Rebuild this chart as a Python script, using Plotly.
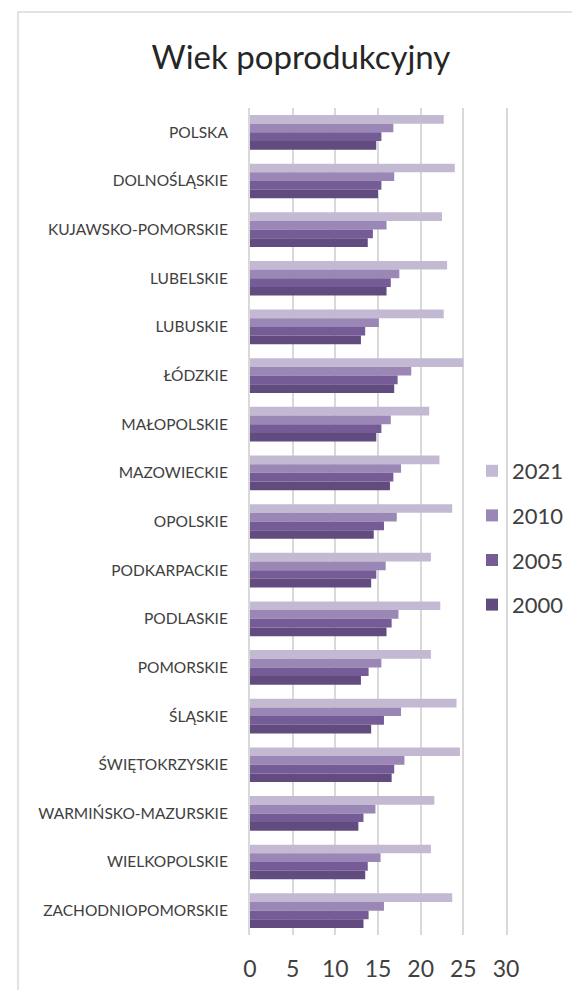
import plotly.graph_objects as go

regions = ["POLSKA", "DOLNOŚLĄSKIE", "KUJAWSKO-POMORSKIE", "LUBELSKIE", "LUBUSKIE",
           "ŁÓDZKIE", "MAŁOPOLSKIE", "MAZOWIECKIE", "OPOLSKIE", "PODKARPACKIE",
           "PODLASKIE", "POMORSKIE", "ŚLĄSKIE", "ŚWIĘTOKRZYSKIE",
           "WARMIŃSKO-MAZURSKIE", "WIELKOPOLSKIE", "ZACHODNIOPOMORSKIE"]

v2021 = [22.7, 24.0, 22.5, 23.1, 22.7, 25.0, 21.0, 22.2, 23.7, 21.2, 22.3, 21.2, 24.2, 24.6, 21.6, 21.2, 23.7]
v2010 = [16.8, 16.9, 16.0, 17.5, 15.1, 18.9, 16.5, 17.7, 17.2, 15.9, 17.4, 15.4, 17.7, 18.1, 14.7, 15.3, 15.7]
v2005 = [15.4, 15.4, 14.4, 16.5, 13.5, 17.3, 15.4, 16.8, 15.7, 14.8, 16.6, 13.9, 15.7, 16.9, 13.3, 13.8, 13.9]
v2000 = [14.8, 15.0, 13.8, 16.0, 13.0, 16.9, 14.8, 16.4, 14.5, 14.2, 16.0, 13.0, 14.2, 16.6, 12.7, 13.5, 13.3]

series_names = ["2021", "2010", "2005", "2000"]
series_values = [v2021, v2010, v2005, v2000]
colors = ["#c3b9d3", "#9b87b5", "#765c97", "#624c7f"]

x_ticks = [0, 5, 10, 15, 20, 25, 30]

W, H = 572, 990
L, R, T, B = 250, 66, 108, 55
pw, ph = W - L - R, H - T - B

def px_x(p):
    return (p - L) / pw

def px_y(p):
    return (H - B - p) / ph

fig = go.Figure()
for name, vals, col in zip(series_names, series_values, colors):
    fig.add_trace(go.Bar(
        y=regions, x=vals, name=name, orientation="h",
        marker=dict(color=col, line=dict(width=0)),
        legendgroup=name,
    ))

font_family = "Lato, Carlito, 'Open Sans', sans-serif"

fig.update_layout(
    width=W, height=H,
    margin=dict(l=L, r=R, t=T, b=B, autoexpand=False),
    paper_bgcolor="white", plot_bgcolor="white",
    barmode="group", bargap=0.287, bargroupgap=0,
    font=dict(family=font_family, color="#404040"),
    title=dict(text="Wiek poprodukcyjny", x=301 / W, xanchor="center",
               y=1 - 57 / H, yanchor="middle",
               font=dict(size=33, color="#262626", family=font_family)),
    xaxis=dict(range=[0, 30], tickvals=x_ticks, showgrid=True,
               gridcolor="#d9d9d9", gridwidth=2, zeroline=False,
               showline=False, ticks="", ticklabelstandoff=18,
               tickfont=dict(size=23, color="#404040"), fixedrange=True),
    yaxis=dict(autorange="reversed", showgrid=False, zeroline=False,
               showline=True, mirror=True, linecolor="#d9d9d9", linewidth=2,
               ticks="", ticklabelstandoff=17,
               tickfont=dict(size=15.5, color="#404040")),
    legend=dict(x=px_x(472), xanchor="left", y=px_y(450), yanchor="top",
                bgcolor="rgba(0,0,0,0)", font=dict(size=22, color="#404040"),
                tracegroupgap=13, traceorder="grouped"),
    showlegend=True,
    shapes=[dict(type="rect", xref="paper", yref="paper",
                 x0=px_x(18), x1=px_x(W + 20), y0=px_y(H + 20), y1=px_y(12),
                 line=dict(color="#d9d9d9", width=1.5), fillcolor="rgba(0,0,0,0)",
                 layer="below")],
)

fig.write_html(
    "out.html",
    config={"displayModeBar": False},
    post_script="document.body.style.margin='0';document.body.style.overflow='hidden';",
)
